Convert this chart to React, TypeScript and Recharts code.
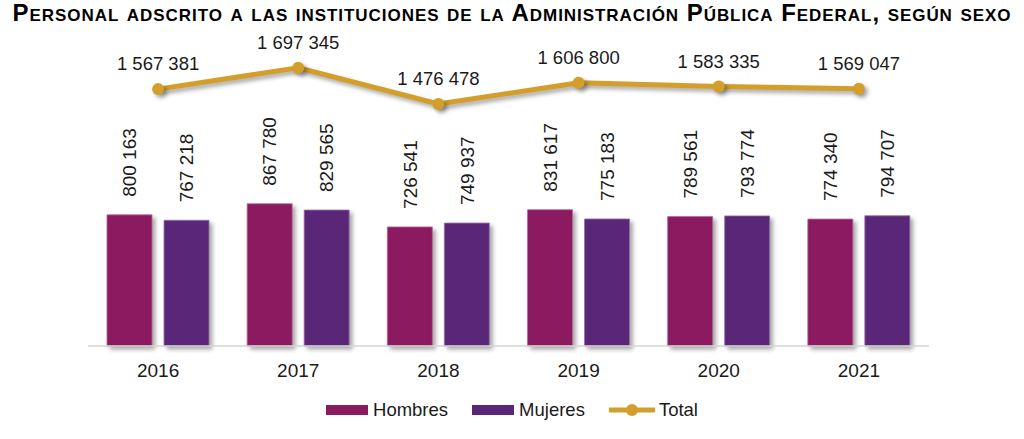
import { ComposedChart, Bar, Line, XAxis, YAxis, Legend, LabelList } from "recharts"

// ---------------------------------------------------------------------------
// Datos
// ---------------------------------------------------------------------------

const years = ["2016", "2017", "2018", "2019", "2020", "2021"]
const hombres = [800163, 867780, 726541, 831617, 789561, 774340]
const mujeres = [767218, 829565, 749937, 775183, 793774, 794707]
const total = [1567381, 1697345, 1476478, 1606800, 1583335, 1569047]

const data = years.map((year, i) => ({
  year,
  hombres: hombres[i],
  mujeres: mujeres[i],
  total: total[i],
}))

const COLOR_H = "#8B1A60"
const COLOR_M = "#5A2677"
const COLOR_T = "#D49E2B"
const FONT = "Arial, 'Liberation Sans', sans-serif"

const fmt = (v: number) => String(v).replace(/\B(?=(\d{3})+(?!\d))/g, " ")

// ---------------------------------------------------------------------------
// Etiquetas
// ---------------------------------------------------------------------------

function BarValue(props: any) {
  const { x, y, width, value } = props
  const cx = x + width / 2
  const sy = y - 18
  return (
    <text
      x={cx}
      y={sy}
      dy="0.36em"
      transform={`rotate(-90 ${cx} ${sy})`}
      textAnchor="start"
      fontSize={19}
      fontFamily={FONT}
      fill="#1a1a1a"
    >
      {fmt(value)}
    </text>
  )
}

function TotalValue(props: any) {
  const { x, y, value } = props
  return (
    <text x={x} y={y - 19} textAnchor="middle" fontSize={18.5} fontFamily={FONT} fill="#1a1a1a">
      {fmt(value)}
    </text>
  )
}

function YearTick(props: any) {
  const { x, y, payload } = props
  return (
    <text x={x} y={y + 31} textAnchor="middle" fontSize={19} fontFamily={FONT} fill="#1a1a1a">
      {payload.value}
    </text>
  )
}

function LegendContent() {
  const item = { display: "flex", alignItems: "center", gap: 5 } as const
  const swatch = (c: string) => (
    <span style={{ display: "inline-block", width: 42, height: 10, background: c }} />
  )
  return (
    <div
      style={{
        display: "flex",
        justifyContent: "center",
        gap: 24,
        height: 24,
        alignItems: "center",
        fontFamily: FONT,
        fontSize: 18.5,
        color: "#1a1a1a",
      }}
    >
      <span style={item}>{swatch(COLOR_H)}Hombres</span>
      <span style={item}>{swatch(COLOR_M)}Mujeres</span>
      <span style={{ ...item, gap: 4 }}>
        <svg width={46} height={14}>
          <line x1={0} y1={7} x2={46} y2={7} stroke={COLOR_T} strokeWidth={5} strokeLinecap="round" />
          <circle cx={23} cy={7} r={6} fill={COLOR_T} />
        </svg>
        Total
      </span>
    </div>
  )
}

// ---------------------------------------------------------------------------
// Componente principal
// ---------------------------------------------------------------------------

export default function App() {
  return (
    <div style={{ position: "absolute", left: 0, top: 0, width: 1024, height: 439, background: "#fff" }}>
      <style>{`
        .recharts-bar-rectangle path { filter: drop-shadow(3px 3px 2px rgba(0,0,0,0.35)); }
        .recharts-line-curve, .recharts-line-dots { filter: drop-shadow(3px 3px 2px rgba(0,0,0,0.35)); }
      `}</style>
      <div
        style={{
          position: "absolute",
          top: 0,
          left: 0,
          width: 1024,
          textAlign: "center",
          fontFamily: FONT,
          fontWeight: "bold",
          fontSize: 24,
          lineHeight: "26px",
          letterSpacing: "0.95px",
          fontVariant: "small-caps",
          color: "#000",
          whiteSpace: "nowrap",
        }}
      >
        Personal adscrito a las instituciones de la Administración Pública Federal, según sexo
      </div>
      <ComposedChart
        width={1024}
        height={439}
        data={data}
        margin={{ top: 51, right: 95, bottom: 39, left: 88 }}
        barCategoryGap={19}
        barGap={12}
      >
        <XAxis
          dataKey="year"
          height={30}
          tickLine={false}
          tickSize={0}
          tickMargin={0}
          axisLine={{ stroke: "#d4d4d4", strokeWidth: 1.5 }}
          tick={<YearTick />}
          interval={0}
        />
        <YAxis hide domain={[0, 1800000]} />
        <Legend
          verticalAlign="bottom"
          content={<LegendContent />}
          wrapperStyle={{ top: 398, left: 0, width: 1024, bottom: "auto" }}
        />
        <Bar dataKey="hombres" name="Hombres" fill={COLOR_H} stroke="#b46a98" strokeWidth={0.8} isAnimationActive={false}>
          <LabelList dataKey="hombres" content={<BarValue />} />
        </Bar>
        <Bar dataKey="mujeres" name="Mujeres" fill={COLOR_M} stroke="#9476a8" strokeWidth={0.8} isAnimationActive={false}>
          <LabelList dataKey="mujeres" content={<BarValue />} />
        </Bar>
        <Line
          type="linear"
          dataKey="total"
          name="Total"
          stroke={COLOR_T}
          strokeWidth={5}
          dot={{ r: 6, fill: COLOR_T, stroke: "none" }}
          activeDot={false}
          isAnimationActive={false}
        >
          <LabelList dataKey="total" content={<TotalValue />} />
        </Line>
      </ComposedChart>
    </div>
  )
}
